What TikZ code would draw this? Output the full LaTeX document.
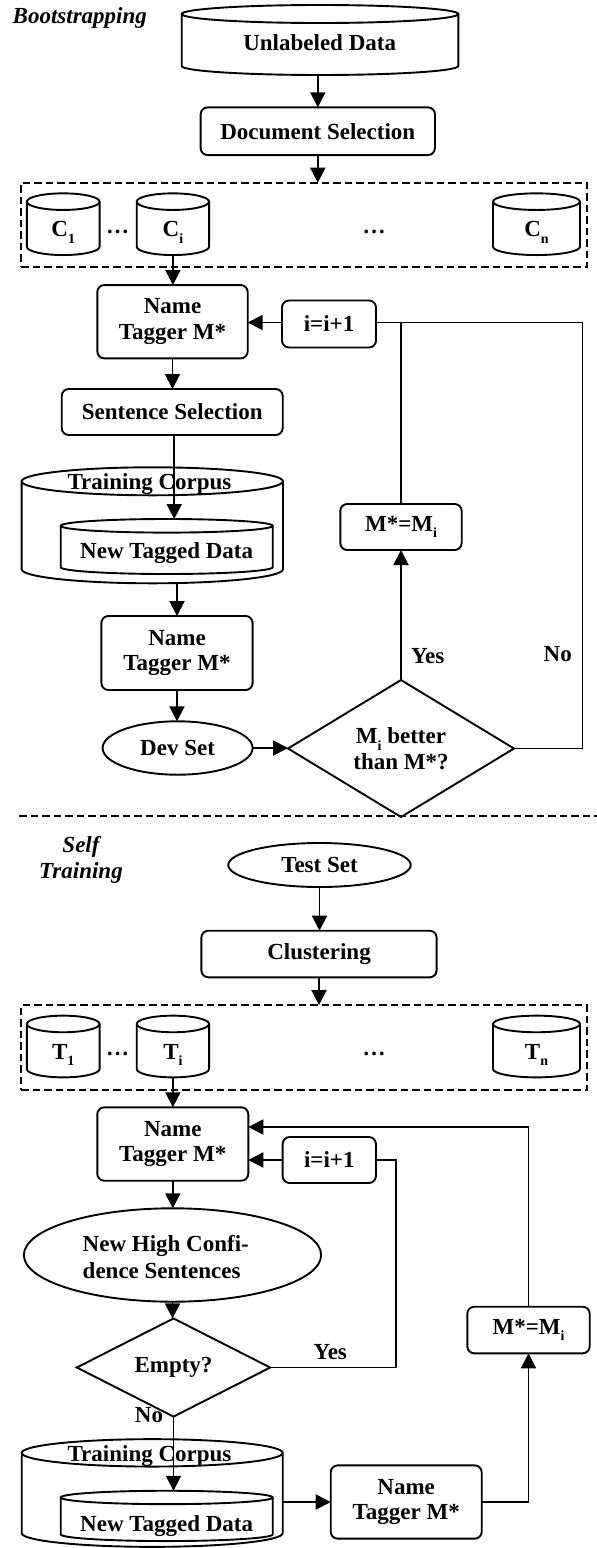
\documentclass[tikz,border=0pt]{standalone}
\usepackage{fontspec}
\setmainfont{Liberation Serif}
\usetikzlibrary{shapes.geometric,arrows.meta,calc}

% lowered small index, as in C_1, M_i
\newcommand{\lowsub}[1]{\raisebox{-0.28em}{\fontsize{14}{14}\selectfont #1}}

% cylinder outline drawn around a frameless rectangular node
% #1 = node name, #2 = half-height of the end ellipses (pt)
\newcommand{\cylframe}[2]{%
  \draw[ln] let \p1=(#1.north west), \p2=(#1.south east), \n1={(\x2-\x1)/2} in
    ($(#1.north)+(0,-#2)$) ellipse [x radius=\n1, y radius=#2pt]
    (\x1,\y1-#2pt) -- (\x1,\y2+#2pt)
    arc [start angle=180, end angle=360, x radius=\n1, y radius=#2pt]
    -- (\x2,\y1-#2pt);}

\begin{document}
\begin{tikzpicture}[x=1pt, y=1pt,
  every node/.style={font=\fontsize{23}{25.5}\selectfont\bfseries, inner sep=0pt, outer sep=0pt, align=center},
  ln/.style={line width=1.9pt},
  arr/.style={ln, -{Triangle[length=15pt,width=15pt]}},
  rbox/.style={rectangle, draw, ln, rounded corners=7pt},
  oval/.style={ellipse, draw, ln},
  decision/.style={diamond, draw, ln},
  cylbox/.style={rectangle},
  grp/.style={rectangle, draw, ln, dash pattern=on 7.5pt off 4pt},
  sectlabel/.style={font=\fontsize{23}{26}\selectfont\bfseries\itshape},
  cyltext/.style={anchor=base},
]
\useasboundingbox (0,0) rectangle (597,-1548);

% ---------------- Bootstrapping ----------------
\node[sectlabel, anchor=base west] (lboot) at (12.7,-23.3) {Bootstrapping};

\node[cylbox, minimum width=276.6pt, minimum height=70pt] (unl) at (320,-40) {};
\node[cyltext] (unlT) at (319.7,-50) {Unlabeled Data};

\node[rbox, minimum width=234.3pt, minimum height=47.7pt] (doc) at (317.8,-131.2) {Document Selection};

\node[grp, minimum width=566pt, minimum height=84.6pt] (box1) at (304,-225) {};
\node[cylbox, minimum width=72.7pt, minimum height=61.7pt] (c1) at (63.2,-224.2) {};
\node[cylbox, minimum width=72.3pt, minimum height=61.7pt] (ci) at (172.9,-224.2) {};
\node[cylbox, minimum width=87pt, minimum height=61.7pt] (cn) at (536.5,-224.2) {};
\node[cyltext] (c1T) at (63.2,-236.7) {C\lowsub{1}};
\node[cyltext] (ciT) at (172.9,-236.7) {C\lowsub{i}};
\node[cyltext] (cnT) at (536.5,-236.7) {C\lowsub{n}};
\node[cyltext] (cdotsA) at (117.5,-233.5) {…};
\node[cyltext] (cdotsB) at (374.2,-233.5) {…};

\node[rbox, minimum width=150.4pt, minimum height=73.3pt] (nt1) at (172.5,-321.7) {Name\\Tagger M*};
\node[rbox, minimum width=94pt, minimum height=47pt] (inc1) at (329,-324) {i=i+1};
\node[rbox, minimum width=221pt, minimum height=46pt] (ss) at (172.2,-412) {Sentence Selection};

\node[cylbox, minimum width=261.3pt, minimum height=116pt] (tc1) at (152.3,-525.3) {};
\node[cyltext] (tc1T) at (149.5,-489.3) {Training Corpus};
\node[cylbox, minimum width=212pt, minimum height=55pt] (nd1) at (166.7,-546.5) {};
\node[cyltext] (nd1T) at (166.7,-558.6) {New Tagged Data};

\node[rbox, minimum width=151.2pt, minimum height=74pt] (nt2) at (177,-653) {Name\\Tagger M*};
\node[oval, minimum width=150pt, minimum height=53.4pt] (dev) at (177.6,-748) {Dev Set};
\node[decision, minimum width=226pt, minimum height=112.3pt] (dia) at (401,-748.5) {M\lowsub{i} better\\than M*?};
\node[rbox, minimum width=121.4pt, minimum height=46pt] (mm1) at (401,-527) {M*=M\lowsub{i}};
\node (yes1) at (427.7,-656) {Yes};
\node (no1) at (557.7,-654) {No};
\coordinate (loopR) at (582.5,-322.5);

\cylframe{unl}{9}
\cylframe{c1}{8.3}
\cylframe{ci}{8.3}
\cylframe{cn}{8.3}
\cylframe{tc1}{14}
\cylframe{nd1}{6.8}

\draw[arr] (unl.south -| doc.north) -- (doc.north);
\draw[arr] (doc.south) -- (doc.south |- box1.north);
\draw[arr] (ci.south) -- (ci.south |- nt1.north);
\draw[arr] (loopR -| inc1.west) -- (loopR -| nt1.east);
\draw[arr] (nt1.south) -- (nt1.south |- ss.north);
\draw[arr] ([xshift=2pt]ss.south) -- ([xshift=2pt]ss.south |- nd1.north);
\draw[arr] (tc1.south -| nt2.north) -- (nt2.north);
\draw[arr] (nt2.south) -- (nt2.south |- dev.north);
\draw[arr] (dev.east) -- (dev.east -| dia.west);
\draw[arr] (dia.north) -- (mm1.south);
\draw[ln] (dia.east) -| (loopR) -- (loopR -| inc1.east);
\draw[ln] (mm1.north) -- (mm1.north |- loopR);

% section separator
\draw[ln, dash pattern=on 7.5pt off 4pt] (19,-815.7) -- (597,-815.7);

% ---------------- Self Training ----------------
\node[sectlabel] (lself) at (81,-860) {Self\\Training};

\node[oval, minimum width=182.5pt, minimum height=44pt] (ts) at (319.5,-865) {Test Set};
\node[rbox, minimum width=235.3pt, minimum height=46.6pt] (cl) at (319,-954) {Clustering};

\node[grp, minimum width=566pt, minimum height=84.5pt] (box2) at (304,-1047.3) {};
\node[cylbox, minimum width=72.7pt, minimum height=61.7pt] (t1) at (63.2,-1046.5) {};
\node[cylbox, minimum width=72.3pt, minimum height=61.7pt] (ti) at (172.9,-1046.5) {};
\node[cylbox, minimum width=87pt, minimum height=61.7pt] (tn) at (536.5,-1046.5) {};
\node[cyltext] (t1T) at (63.2,-1059) {T\lowsub{1}};
\node[cyltext] (tiT) at (172.9,-1059) {T\lowsub{i}};
\node[cyltext] (tnT) at (536.5,-1059) {T\lowsub{n}};
\node[cyltext] (tdotsA) at (117.5,-1055.8) {…};
\node[cyltext] (tdotsB) at (374.2,-1055.8) {…};

\node[rbox, minimum width=151pt, minimum height=73.4pt] (nt3) at (172.8,-1144) {Name\\Tagger M*};
\node[rbox, minimum width=93.3pt, minimum height=46pt] (inc2) at (329.3,-1160) {i=i+1};
\node[oval, minimum width=297.3pt, minimum height=93.4pt] (hc) at (172.5,-1255) {};
\node[align=left] (hcT) at (165.8,-1257) {New High Confi-\\[1.5pt]dence Sentences};
\node[decision, minimum width=193.4pt, minimum height=78.4pt] (em) at (173.5,-1367.5) {Empty?};
\node (yes2) at (330.3,-1352) {Yes};
\node (no2) at (149,-1415) {No};

\node[cylbox, minimum width=261pt, minimum height=107.7pt] (tc2) at (152.2,-1493) {};
\node[cyltext] (tc2T) at (149.5,-1461.5) {Training Corpus};
\node[cylbox, minimum width=212pt, minimum height=50.3pt] (nd2) at (166.7,-1515.9) {};
\node[cyltext] (nd2T) at (166.7,-1531) {New Tagged Data};

\node[rbox, minimum width=151pt, minimum height=73.3pt] (nt4) at (406.2,-1502) {Name\\Tagger M*};
\node[rbox, minimum width=122.4pt, minimum height=46.6pt] (mm2) at (528.5,-1330) {M*=M\lowsub{i}};
\coordinate (yesR) at (396,-1160);
\coordinate (mTop) at (528.5,-1127);

\cylframe{t1}{8.3}
\cylframe{ti}{8.3}
\cylframe{tn}{8.3}
\cylframe{tc2}{13.7}
\cylframe{nd2}{6.7}

\draw[arr] (ts.south) -- (ts.south |- cl.north);
\draw[arr] (cl.south) -- (cl.south |- box2.north);
\draw[arr] (ti.south) -- (ti.south |- nt3.north);
\draw[arr] (mm2.north) -- (mTop) -- (mTop -| nt3.east);
\draw[arr] (inc2.west) -- (inc2.west -| nt3.east);
\draw[arr] (nt3.south) -- (nt3.south |- hc.north);
\draw[arr] (hc.south) -- (hc.south |- em.north);
\draw[ln] (em.east) -| (yesR) -- (inc2.east);
\draw[arr] (em.south) -- (em.south |- nd2.north);
\draw[arr] (tc2.east |- nt4.west) -- (nt4.west);
\draw[arr] (nt4.east) -| (mm2.south);
\end{tikzpicture}
\end{document}
